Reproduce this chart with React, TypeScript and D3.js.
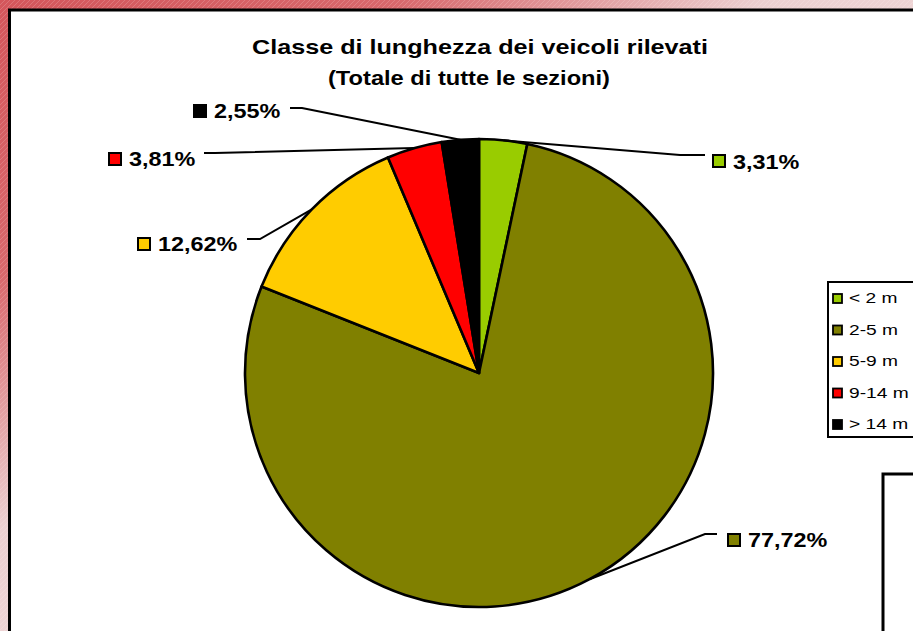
import React from "react";
import * as d3 from "d3";

const categories = ["< 2 m", "2-5 m", "5-9 m", "9-14 m", "> 14 m"];
const values = [3.31, 77.72, 12.62, 3.81, 2.55];
const labels = ["3,31%", "77,72%", "12,62%", "3,81%", "2,55%"];
const colors = ["#99CC00", "#808000", "#FFCC00", "#FF0000", "#000000"];
const titleLines = ["Classe di lunghezza dei veicoli rilevati", "(Totale di tutte le sezioni)"];

// layout (positions only)
const titleLayout = [
  { x: 252, y: 54, len: 456 },
  { x: 328, y: 85, len: 282 },
];
const labelLayout = [
  { elbow: [680, 155], end: [705, 155], box: [712, 154], base: 169 },
  { elbow: [705, 534], end: [717, 534], box: [727, 533], base: 547 },
  { elbow: [260, 239], end: [247, 239], box: [137, 237], base: 251 },
  { elbow: [215, 153], end: [204, 153], box: [108, 152], base: 166 },
  { elbow: [302, 108], end: [290, 108], box: [193, 104], base: 118 },
];

const W = 913, H = 631;
const cx = 479, cy = 373, R = 234;
const FONT = "Arial, 'Liberation Sans', sans-serif";

export default function App() {
  const pie = d3.pie<number>().sort(null).value((d) => d)(values);
  const arc = d3.arc<d3.PieArcDatum<number>>().innerRadius(0).outerRadius(R);
  const edge = d3.arc<d3.PieArcDatum<number>>().innerRadius(R).outerRadius(R);

  return (
    <svg width={W} height={H} style={{ position: "absolute", left: 0, top: 0, display: "block" }}>
      <defs>
        <linearGradient id="bg" x1="0" y1="0" x2="1" y2="1">
          <stop offset="0" stopColor="#d4565b" />
          <stop offset="0.22" stopColor="#d8686c" />
          <stop offset="0.42" stopColor="#ecd0d1" />
          <stop offset="1" stopColor="#f6e6e6" />
        </linearGradient>
        <pattern id="hatch" width="5" height="5" patternUnits="userSpaceOnUse">
          <path d="M-1,1 l2,-2 M0,5 l5,-5 M4,6 l2,-2" stroke="#ffffff" strokeOpacity="0.22" strokeWidth="0.8" />
        </pattern>
      </defs>
      <rect x={0} y={0} width={W} height={H} fill="url(#bg)" />
      <rect x={0} y={0} width={W} height={H} fill="url(#hatch)" />
      <rect x={9.5} y={10} width={W + 20} height={H + 20} fill="#ffffff" stroke="#000" strokeWidth={3} />

      {titleLines.map((t, i) => (
        <text key={i} x={titleLayout[i].x} y={titleLayout[i].y} textLength={titleLayout[i].len} lengthAdjust="spacingAndGlyphs"
          fontFamily={FONT} fontWeight="bold" fontSize={21} fill="#000">
          {t}
        </text>
      ))}

      <g transform={`translate(${cx},${cy})`}>
        {pie.map((p, i) => (
          <path key={i} d={arc(p) || ""} fill={colors[i]} stroke="#000" strokeWidth={2.6} strokeLinejoin="round" />
        ))}
      </g>

      {pie.map((p, i) => {
        const [ex, ey] = edge.centroid(p);
        const L = labelLayout[i];
        const pts = [[cx + ex, cy + ey], L.elbow, L.end];
        const line = d3.line()(pts as [number, number][]) || "";
        return (
          <g key={i}>
            <path d={line} fill="none" stroke="#000" strokeWidth={2} />
            <rect x={L.box[0] + 1} y={L.box[1] + 1} width={12} height={12} fill={colors[i]} stroke="#000" strokeWidth={2} />
            <text transform={`translate(${L.box[0] + 21},${L.base}) scale(1.17,1)`} fontFamily={FONT} fontWeight="bold" fontSize={20} fill="#000">
              {labels[i]}
            </text>
          </g>
        );
      })}

      <rect x={828} y={282} width={100} height={155} fill="#fff" stroke="#000" strokeWidth={2} />
      {categories.map((c, i) => {
        const base = 303 + i * 31.5;
        return (
          <g key={c}>
            <rect x={833} y={base - 9} width={9} height={9} fill={colors[i]} stroke="#000" strokeWidth={1.8} />
            <text transform={`translate(849,${base}) scale(1.37,1)`} fontFamily={FONT} fontSize={14} fill="#000">
              {c}
            </text>
          </g>
        );
      })}

      <rect x={883} y={474} width={60} height={200} fill="#fff" stroke="#000" strokeWidth={3} />
    </svg>
  );
}
